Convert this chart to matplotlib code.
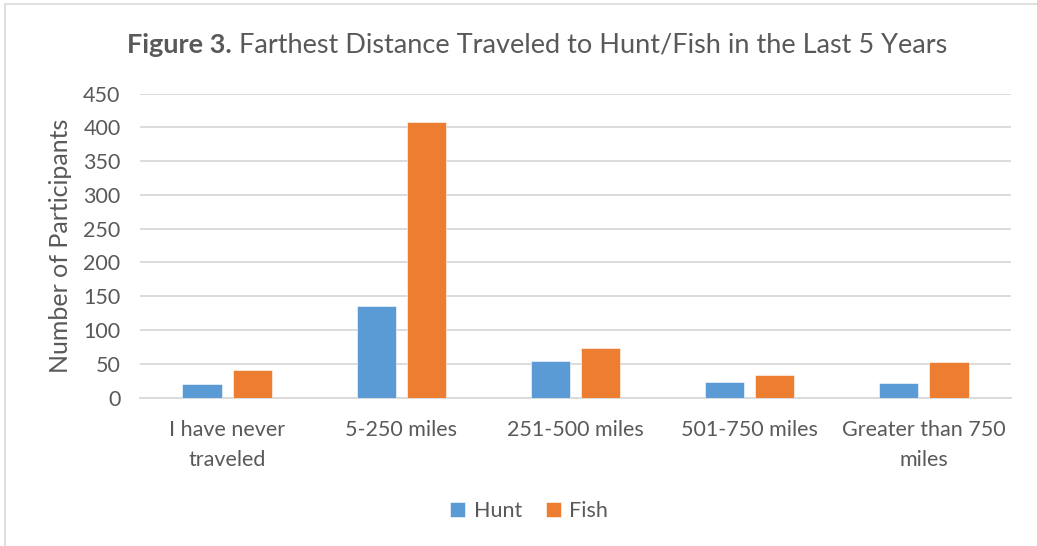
import matplotlib
matplotlib.use("Agg", force=True)
import matplotlib.pyplot as plt
import numpy as np
from matplotlib.patches import Rectangle

categories = ["I have never\ntraveled", "5-250 miles", "251-500 miles", "501-750 miles", "Greater than 750\nmiles"]
hunt = [20, 136, 54, 23, 22]
fish = [40, 408, 74, 34, 53]
yticks = [0, 50, 100, 150, 200, 250, 300, 350, 400, 450]

HUNT_COLOR = "#5B9BD5"
FISH_COLOR = "#ED7D31"
TEXT = "#595959"
GRID = "#D9D9D9"

plt.rcParams["font.family"] = ["Lato", "DejaVu Sans"]

W, H = 1037, 546
fig = plt.figure(figsize=(W / 100, H / 100), dpi=100)
ax = fig.add_axes([140 / W, 1 - 397.5 / H, 871 / W, 304 / H])

x = np.arange(len(categories))
width = 0.225
ax.bar(x - 0.144, hunt, width, color=HUNT_COLOR, edgecolor="white", linewidth=0.4, label="Hunt", zorder=3)
ax.bar(x + 0.144, fish, width, color=FISH_COLOR, edgecolor="white", linewidth=0.4, label="Fish", zorder=3)

ax.set_xlim(-0.5, len(categories) - 0.5)
ax.set_ylim(0, 450)
ax.set_yticks(yticks)
ax.set_xticks(x)
ax.set_xticklabels(categories, linespacing=1.65)
ax.tick_params(axis="both", length=0, colors=TEXT, labelsize=15.5)
ax.tick_params(axis="x", pad=16)
ax.tick_params(axis="y", pad=14)
ax.yaxis.grid(True, color=GRID, linewidth=1.3, zorder=0)
for side in ["top", "right", "left"]:
    ax.spines[side].set_visible(False)
ax.spines["bottom"].set_color(GRID)
ax.spines["bottom"].set_linewidth(1.3)
ax.set_ylabel("Number of Participants", color=TEXT, fontsize=18, labelpad=8)

leg = fig.legend(loc="center", bbox_to_anchor=(529 / W, 1 - 511 / H), ncol=2, frameon=False,
                 fontsize=15.5, handlelength=0.7, handleheight=0.7, handletextpad=0.4, columnspacing=1.1)
for t in leg.get_texts():
    t.set_color(TEXT)

# chart border (right/bottom edges fall outside the image)
fig.patches.append(Rectangle((5 / W, -0.1), 1.2, 1 - 4 / H + 0.1, transform=fig.transFigure,
                             fill=False, edgecolor=GRID, linewidth=1.2))

# title: bold prefix then regular text
fig.canvas.draw()
renderer = fig.canvas.get_renderer()
t1 = fig.text(0, 0, "Figure 3.", fontsize=19.5, fontweight="bold", color=TEXT, va="center")
t2 = fig.text(0, 0, " Farthest Distance Traveled to Hunt/Fish in the Last 5 Years", fontsize=19.5, color=TEXT, va="center")
w1 = t1.get_window_extent(renderer).width
w2 = t2.get_window_extent(renderer).width
start = 537 - (w1 + w2) / 2
ty = 1 - 45 / H
t1.set_position((start / W, ty))
t2.set_position(((start + w1) / W, ty))

fig.savefig("out.png", dpi=100)
